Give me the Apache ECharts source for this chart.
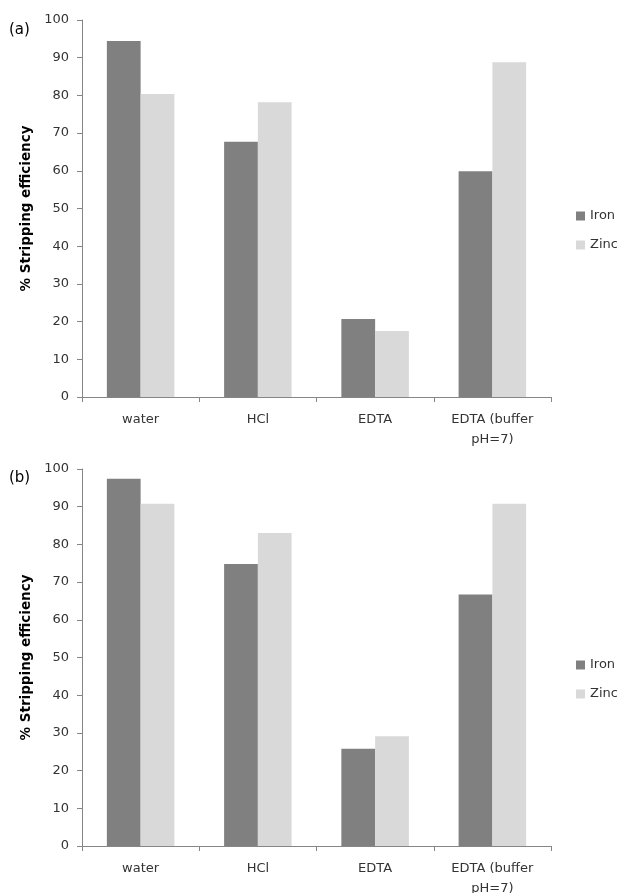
<!DOCTYPE html>
<html>
<head>
<meta charset="utf-8">
<script src="https://cdn.jsdelivr.net/npm/echarts@6/dist/echarts.min.js"></script>
<style>
html,body{margin:0;padding:0;background:#fff;}
#chart{width:617px;height:893px;}
</style>
</head>
<body>
<div id="chart"></div>
<script>
var categories = ['water', 'HCl', 'EDTA', 'EDTA (buffer\npH=7)'];
var ironA = [94.4, 67.7, 20.7, 59.9];
var zincA = [80.4, 78.2, 17.5, 88.8];
var ironB = [97.4, 74.8, 25.8, 66.7];
var zincB = [90.8, 83.0, 29.1, 90.8];
var yTicks = { min: 0, max: 100, interval: 10 };
var panelLabels = ['(a)', '(b)'];
var yTitle = '% Stripping efficiency';

var FONT = 'DejaVu Sans';
var AXIS_COLOR = '#868686';
var TEXT_COLOR = '#333333';
var IRON_COLOR = '#808080';
var ZINC_COLOR = '#d9d9d9';

function xAxisCfg(gi) {
  return {
    type: 'category', gridIndex: gi, data: categories,
    axisLine: { lineStyle: { color: AXIS_COLOR, width: 1 } },
    axisTick: { show: true, length: 5, lineStyle: { color: AXIS_COLOR } },
    axisLabel: { interval: 0, margin: 13, fontFamily: FONT, fontSize: 13, color: TEXT_COLOR, lineHeight: 20, hideOverlap: false },
    splitLine: { show: false }
  };
}
function yAxisCfg(gi) {
  return {
    type: 'value', gridIndex: gi, min: yTicks.min, max: yTicks.max, interval: yTicks.interval,
    name: yTitle, nameLocation: 'middle', nameGap: 38,
    nameTextStyle: { fontFamily: FONT, fontSize: 13.5, fontWeight: 'bold', color: '#000' },
    axisLine: { show: true, lineStyle: { color: AXIS_COLOR, width: 1 } },
    axisTick: { show: true, length: 5, lineStyle: { color: AXIS_COLOR } },
    axisLabel: { margin: 13, fontFamily: FONT, fontSize: 13, color: TEXT_COLOR },
    splitLine: { show: false }
  };
}
function barSeries(name, data, gi, color) {
  return {
    name: name, type: 'bar', xAxisIndex: gi, yAxisIndex: gi, data: data,
    barWidth: '28.8%', barGap: '0%',
    itemStyle: { color: color },
    emphasis: { disabled: true }
  };
}
function legendCfg(top) {
  return {
    orient: 'vertical', left: 576, top: top, padding: 0, itemWidth: 9, itemHeight: 9, itemGap: 15,
    icon: 'rect', data: ['Iron', 'Zinc'],
    textStyle: { fontFamily: FONT, fontSize: 13, color: TEXT_COLOR, lineHeight: 14, overflow: 'none' }
  };
}

var chart = echarts.init(document.getElementById('chart'));
chart.setOption({
  animation: false,
  backgroundColor: '#ffffff',
  title: [
    { text: panelLabels[0], left: 9, top: 23, padding: 0, textStyle: { fontFamily: FONT, fontSize: 15, fontWeight: 'normal', color: '#000' } },
    { text: panelLabels[1], left: 9, top: 471, padding: 0, textStyle: { fontFamily: FONT, fontSize: 15, fontWeight: 'normal', color: '#000' } }
  ],
  legend: [legendCfg(209), legendCfg(658)],
  grid: [
    { left: 82, right: 66, top: 20, height: 377, containLabel: false, outerBoundsMode: 'none' },
    { left: 82, right: 66, top: 469, height: 377, containLabel: false, outerBoundsMode: 'none' }
  ],
  xAxis: [xAxisCfg(0), xAxisCfg(1)],
  yAxis: [yAxisCfg(0), yAxisCfg(1)],
  series: [
    barSeries('Iron', ironA, 0, IRON_COLOR),
    barSeries('Zinc', zincA, 0, ZINC_COLOR),
    barSeries('Iron', ironB, 1, IRON_COLOR),
    barSeries('Zinc', zincB, 1, ZINC_COLOR)
  ]
});
</script>
</body>
</html>
